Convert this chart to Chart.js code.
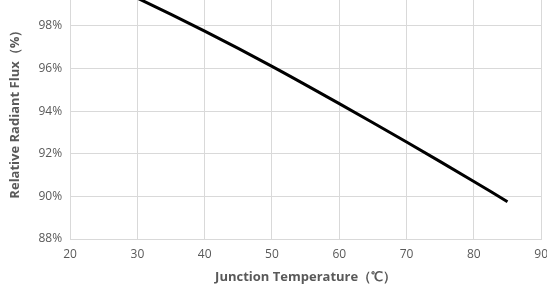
<!DOCTYPE html>
<html>
<head>
<meta charset="utf-8">
<script src="https://cdn.jsdelivr.net/npm/chart.js@4"></script>
<style>
  html, body { margin: 0; padding: 0; background: #fff; overflow: hidden; }
  body { width: 547px; height: 289px; position: relative; }
  #wrap { position: absolute; left: 0; top: -32px; width: 556px; height: 320px; }
</style>
</head>
<body>
<div id="wrap"><canvas id="grafica"></canvas></div>
<script>
// datos
const temps = [25, 30, 40, 50, 60, 70, 80, 85]
const flux  = [100, 99.3, 97.75, 96.1, 94.35, 92.55, 90.7, 89.75]

const xTitle = 'Junction Temperature（℃）'
const yTitle = 'Relative Radiant Flux（%）'

const GRID = '#d9d9d9'
const TXT  = '#595959'

new Chart(document.getElementById('grafica'), {
  type: 'line',
  data: {
    datasets: [{
      data: temps.map(function(t, i) { return { x: t, y: flux[i] } }),
      borderColor: '#000',
      borderWidth: 3,
      pointRadius: 0,
      tension: 0.3,
      fill: false,
    }]
  },
  options: {
    responsive: true,
    maintainAspectRatio: false,
    animation: false,
    layout: { padding: { left: 7, right: 6, top: 0, bottom: 3 } },
    plugins: { legend: { display: false }, tooltip: { enabled: false } },
    scales: {
      x: {
        type: 'linear', min: 20, max: 90,
        ticks: { stepSize: 10, color: TXT, font: { family: "'Open Sans', sans-serif", size: 12 }, padding: 8 },
        grid: { color: GRID, drawTicks: false },
        border: { color: GRID },
        title: { display: true, text: xTitle, color: TXT, font: { family: "'Open Sans', sans-serif", size: 13, weight: 'bold' }, padding: { top: 0, bottom: 0 } }
      },
      y: {
        min: 88, max: 100,
        ticks: { stepSize: 2, color: TXT, font: { family: "'Open Sans', sans-serif", size: 12 }, padding: 8,
          callback: function(v) { return v + '%' } },
        grid: { color: GRID, drawTicks: false },
        border: { color: GRID },
        title: { display: true, text: yTitle, color: TXT, font: { family: "'Open Sans', sans-serif", size: 13, weight: 'bold' }, padding: { top: 0, bottom: 1 } }
      }
    }
  }
})
</script>
</body>
</html>
